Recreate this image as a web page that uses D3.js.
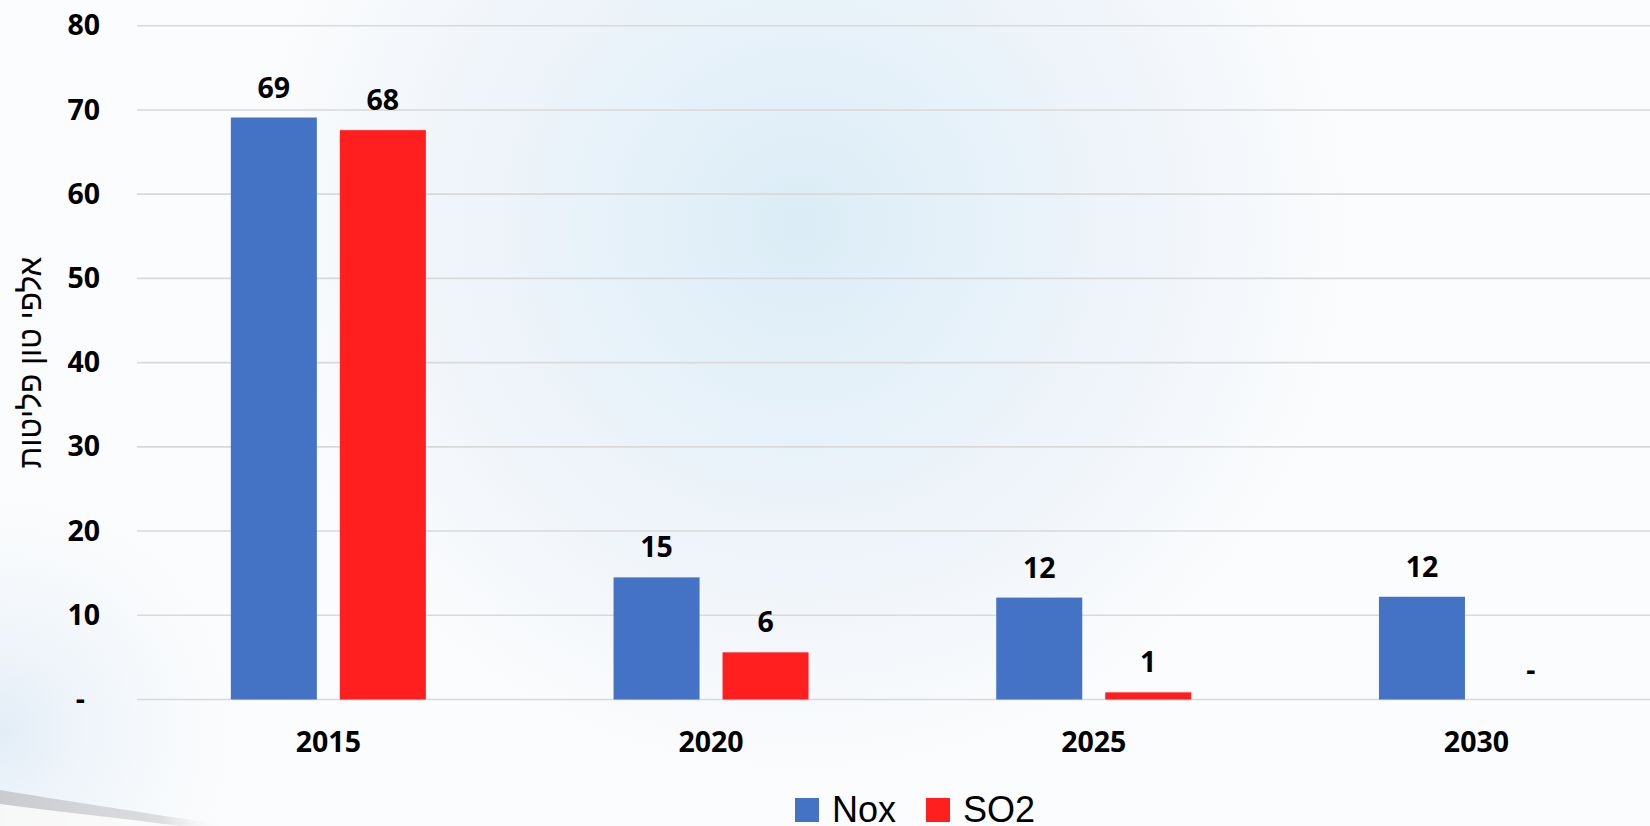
<!DOCTYPE html>
<html>
<head>
<meta charset="utf-8">
<script src="https://cdn.jsdelivr.net/npm/d3@7"></script>
<style>
  html, body { margin: 0; padding: 0; background: #ffffff; overflow: hidden; }
  svg { display: block; }
</style>
</head>
<body>
<svg id="chart" width="1650" height="826"></svg>
<script>
// ---- data ----
const categories = ["2015", "2020", "2025", "2030"];
const seriesNames = ["Nox", "SO2"];
const noxValues = [69.1, 14.5, 12.1, 12.2];
const so2Values = [67.6, 5.6, 0.85, 0];
const yTicks = [0, 10, 20, 30, 40, 50, 60, 70, 80];
const yTitle = "אלפי טון פליטות";
const colors = ["#4472C4", "#FF1F1F"];

// ---- layout ----
const W = 1650, H = 826;
const plotLeft = 137, plotTop = 25.7, plotBottom = 699.5;
const step = 382.7;

const svg = d3.select("#chart");
const defs = svg.append("defs");

// background
const rg = defs.append("radialGradient").attr("id", "glow")
  .attr("gradientUnits", "userSpaceOnUse")
  .attr("cx", 800).attr("cy", 225).attr("r", 560);
rg.append("stop").attr("offset", "0").attr("stop-color", "#dbecf6");
rg.append("stop").attr("offset", "0.3").attr("stop-color", "#e5f1f9");
rg.append("stop").attr("offset", "0.6").attr("stop-color", "#eff4fa");
rg.append("stop").attr("offset", "1").attr("stop-color", "#fbfcfd");

const lt = defs.append("radialGradient").attr("id", "leftTint")
  .attr("gradientUnits", "userSpaceOnUse")
  .attr("cx", 0).attr("cy", 730).attr("r", 260);
lt.append("stop").attr("offset", "0").attr("stop-color", "#e2edf7").attr("stop-opacity", 1);
lt.append("stop").attr("offset", "1").attr("stop-color", "#f5f8fb").attr("stop-opacity", 0);

const sw = defs.append("linearGradient").attr("id", "swoosh")
  .attr("x1", 0).attr("y1", 0).attr("x2", 1).attr("y2", 0);
sw.append("stop").attr("offset", "0").attr("stop-color", "#c9cbce");
sw.append("stop").attr("offset", "0.7").attr("stop-color", "#dcdde0");
sw.append("stop").attr("offset", "1").attr("stop-color", "#ffffff").attr("stop-opacity", 0);

svg.append("rect").attr("width", W).attr("height", H).attr("fill", "#fbfcfd");
svg.append("rect").attr("width", W).attr("height", H).attr("fill", "url(#glow)");
svg.append("rect").attr("x", 0).attr("y", 400).attr("width", 300).attr("height", 426).attr("fill", "url(#leftTint)");
svg.append("path")
  .attr("d", "M0,790 C60,800 140,812 230,826 L0,826 Z")
  .attr("fill", "url(#swoosh)");
svg.append("path")
  .attr("d", "M0,804 C60,812 120,818 180,826 L0,826 Z")
  .attr("fill", "#ffffff").attr("opacity", 0.85);

// scales
const x0 = d3.scaleBand().domain(categories)
  .range([plotLeft, plotLeft + step * categories.length])
  .paddingInner(0).paddingOuter(0);
const groupW = 195;
const x1 = d3.scaleBand().domain(seriesNames)
  .range([(step - groupW) / 2, (step + groupW) / 2])
  .paddingInner(23 / 109).paddingOuter(0);
const y = d3.scaleLinear().domain([0, 80]).range([plotBottom, plotTop]);

// gridlines
svg.append("g").selectAll("line").data(yTicks).join("line")
  .attr("x1", plotLeft).attr("x2", W + 20)
  .attr("y1", d => y(d)).attr("y2", d => y(d))
  .attr("stroke", "#d9d9d9").attr("stroke-width", 1.6);

const numFont = "'Open Sans', sans-serif";
const numSize = 28.5;

// y axis (labels only)
const yAxis = d3.axisLeft(y).tickValues(yTicks)
  .tickFormat(d => d === 0 ? "-" : d3.format("d")(d))
  .tickSize(0).tickPadding(0);
const yG = svg.append("g").attr("transform", "translate(100,0)").call(yAxis);
yG.select(".domain").remove();
yG.selectAll("text")
  .attr("font-family", numFont)
  .attr("font-weight", "bold").attr("font-size", numSize)
  .attr("fill", "#000");
yG.selectAll(".tick").filter(d => d === 0).select("text").attr("dx", -15);

// x axis (labels only)
const xAxis = d3.axisBottom(x0).tickSize(0).tickPadding(0);
const xG = svg.append("g").attr("transform", `translate(0,${plotBottom})`).call(xAxis);
xG.select(".domain").remove();
xG.selectAll("text")
  .attr("font-family", numFont)
  .attr("font-weight", "bold").attr("font-size", numSize)
  .attr("fill", "#000")
  .attr("dy", null).attr("y", 52);

// bars
const rows = categories.map((c, i) => ({ cat: c, vals: [noxValues[i], so2Values[i]] }));
const groups = svg.append("g").selectAll("g").data(rows).join("g")
  .attr("transform", d => `translate(${x0(d.cat)},0)`);
groups.selectAll("rect").data(d => d.vals.map((v, j) => ({ s: seriesNames[j], v, j })))
  .join("rect")
  .attr("x", d => x1(d.s)).attr("width", x1.bandwidth())
  .attr("y", d => y(d.v)).attr("height", d => y(0) - y(d.v))
  .attr("fill", d => colors[d.j]);
groups.selectAll("text").data(d => d.vals.map((v, j) => ({ s: seriesNames[j], v, j })))
  .join("text")
  .attr("x", d => x1(d.s) + x1.bandwidth() / 2)
  .attr("y", d => y(d.v) - 20)
  .attr("text-anchor", "middle")
  .attr("font-family", numFont)
  .attr("font-weight", "bold").attr("font-size", numSize)
  .attr("fill", "#000")
  .text(d => d.v === 0 ? "-" : d3.format("d")(Math.round(d.v)));

// y title
svg.append("text")
  .attr("transform", `translate(41,${(plotTop + plotBottom) / 2}) rotate(-90)`)
  .attr("text-anchor", "middle")
  .attr("direction", "rtl")
  .attr("font-family", "'Liberation Sans', Arial, sans-serif")
  .attr("font-size", 31.5)
  .attr("fill", "#000")
  .text(yTitle);

// legend
const legend = svg.append("g");
const legendX = [795, 926];
seriesNames.forEach((s, j) => {
  legend.append("rect").attr("x", legendX[j]).attr("y", 798).attr("width", 24).attr("height", 24)
    .attr("fill", colors[j]);
  legend.append("text").attr("x", legendX[j] + 37).attr("y", 822)
    .attr("font-family", "'Liberation Sans', Arial, sans-serif")
    .attr("font-size", 36).attr("fill", "#000")
    .text(s);
});
</script>
</body>
</html>
